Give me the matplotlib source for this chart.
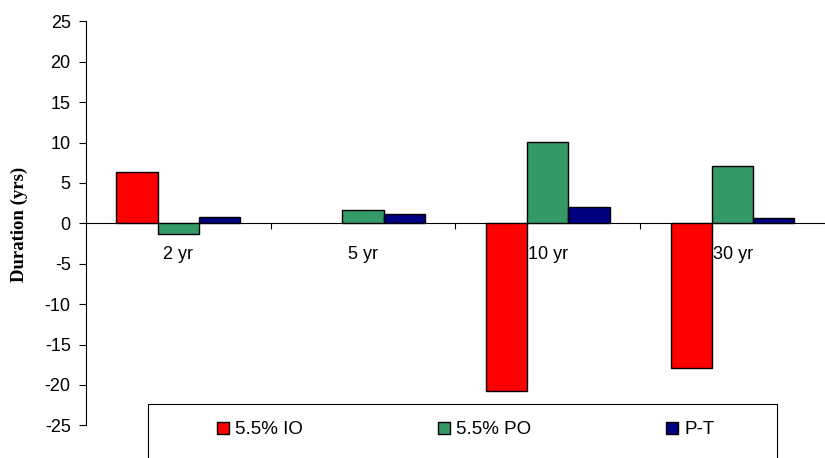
import numpy as np
import matplotlib.pyplot as plt
from matplotlib.patches import Rectangle

# data
categories = ['2 yr', '5 yr', '10 yr', '30 yr']
io_55 = [6.3, np.nan, -20.8, -17.9]   # no IO bar at 5 yr
po_55 = [-1.3, 1.6, 10.1, 7.1]
pt = [0.8, 1.2, 2.0, 0.6]
series_names = ['5.5% IO', '5.5% PO', 'P-T']
y_ticks = [-25, -20, -15, -10, -5, 0, 5, 10, 15, 20, 25]

plt.rcParams['font.family'] = ['Liberation Sans', 'DejaVu Sans']
plt.rcParams['axes.unicode_minus'] = False

fig = plt.figure(figsize=(8.25, 4.58), dpi=100)
ax = fig.add_axes([85.7 / 825, 1 - 425.3 / 458, 1 - 85.7 / 825, (425.3 - 21.3) / 458])

x = np.arange(len(categories))
w = 0.223
colors = ['#FF0000', '#339966', '#000080']
bars = []
for i, vals in enumerate([io_55, po_55, pt]):
    b = ax.bar(x + (i - 1) * w, vals, width=w, color=colors[i],
               edgecolor='black', linewidth=1.0, zorder=3, label=series_names[i])
    bars.append(b)

ax.set_xlim(-0.5, 3.5)
ax.set_ylim(-25, 25)

# axes look
ax.spines['top'].set_visible(False)
ax.spines['right'].set_visible(False)
ax.spines['bottom'].set_position(('data', 0))
ax.spines['left'].set_linewidth(0.8)
ax.spines['bottom'].set_linewidth(0.8)

ax.set_yticks(y_ticks)
ax.tick_params(axis='y', direction='out', length=4.8, width=0.8, pad=6, labelsize=13)

ax.set_xticks(x)
ax.set_xticklabels(categories)
ax.tick_params(axis='x', which='major', length=0, pad=16, labelsize=13)
ax.set_xticks([0.5, 1.5, 2.5], minor=True)
ax.tick_params(axis='x', which='minor', direction='out', length=4.5, width=0.8)

fig.text(19 / 825, 1 - 224 / 458, 'Duration (yrs)', rotation=90, ha='center', va='center',
         family=['Liberation Serif', 'DejaVu Serif'], fontweight='bold', fontsize=13.5)

# legend box (runs off the bottom of the image)
box = Rectangle((148 / 825, -0.05), (777 - 148) / 825, (1 - 404 / 458) + 0.05,
                transform=fig.transFigure, facecolor='white', edgecolor='black', linewidth=0.8)
fig.patches.append(box)

fig.legend(handles=bars, labels=series_names, ncol=3, loc='center left',
           bbox_to_anchor=(217 / 825, 1 - 430 / 458), frameon=False, borderpad=0,
           borderaxespad=0, handlelength=0.64, handleheight=0.64, handletextpad=0.32,
           columnspacing=7.2, fontsize=13.5)

fig.savefig('out.png', dpi=100)
